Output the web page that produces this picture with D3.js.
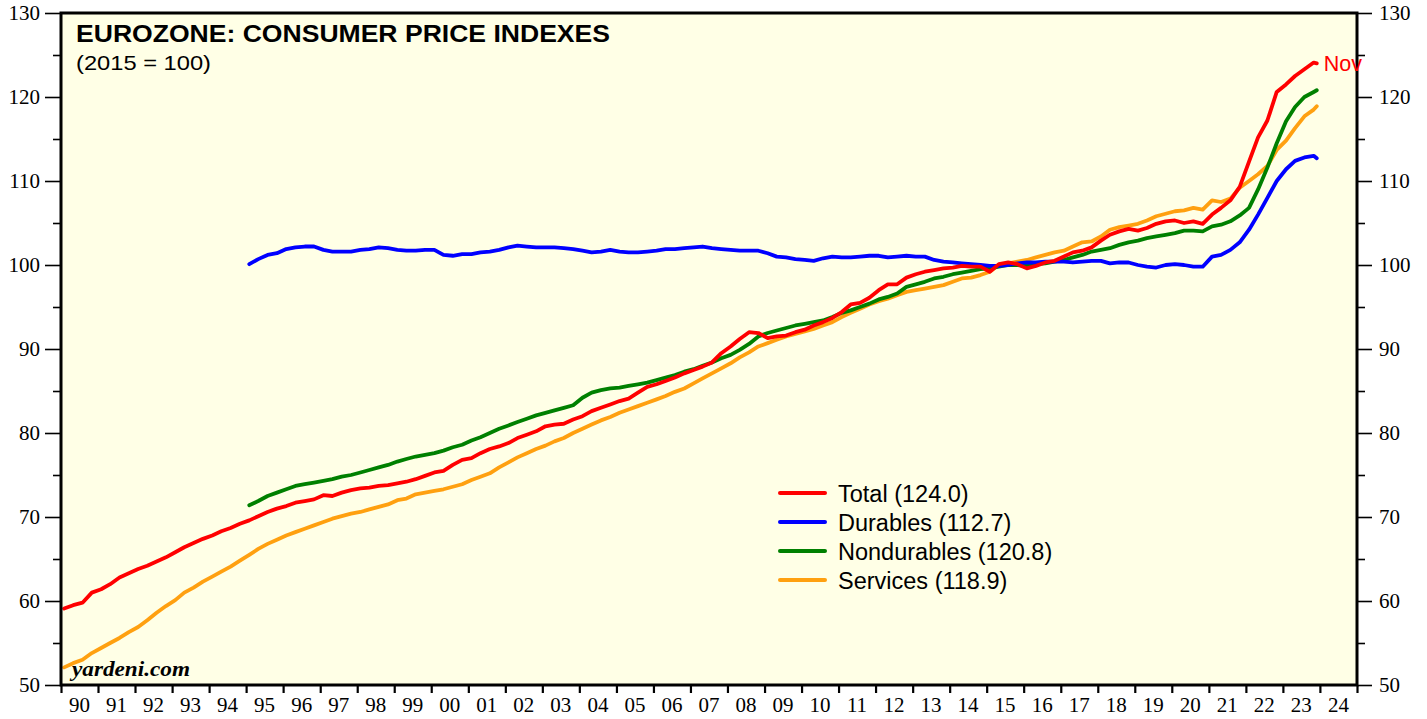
<!DOCTYPE html>
<html>
<head>
<meta charset="utf-8">
<script src="https://cdn.jsdelivr.net/npm/d3@7"></script>
<style>
  html, body { margin: 0; padding: 0; background: #ffffff; }
  svg { display: block; }
</style>
</head>
<body>
<svg id="chart" width="1427" height="719"></svg>
<script>
// ---------------- DATA (quarterly samples: Jan, Apr, Jul, Oct, plus final Nov 2023) ----------------
const title = "EUROZONE: CONSUMER PRICE INDEXES";
const subtitle = "(2015 = 100)";
const source = "yardeni.com";
const lastLabel = "Nov";

const startTotal = "1990-01";   // Total & Services start
const startGoods = "1995-01";   // Durables & Nondurables start
const endMonth = "2023-11";

const totalValues = [
  59.1, 59.5, 59.8, 61.0,   61.4, 62.0, 62.8, 63.3,   63.8, 64.2, 64.7, 65.2,   65.8, 66.4, 66.9, 67.4,
  67.8, 68.3, 68.7, 69.2,   69.6, 70.1, 70.6, 71.0,   71.3, 71.7, 71.9, 72.1,   72.6, 72.5, 72.9, 73.2,
  73.4, 73.5, 73.7, 73.8,   74.0, 74.2, 74.5, 74.9,   75.3, 75.5, 76.2, 76.8,   77.0, 77.6, 78.1, 78.4,
  78.8, 79.4, 79.8, 80.2,   80.8, 81.0, 81.1, 81.6,   82.0, 82.6, 83.0, 83.4,   83.8, 84.1, 84.8, 85.5,
  85.8, 86.2, 86.6, 87.1,   87.5, 87.9, 88.4, 89.5,   90.3, 91.2, 92.0, 91.9,   91.3, 91.5, 91.6, 92.0,
  92.3, 92.8, 93.2, 93.7,   94.4, 95.3, 95.5, 96.1,   97.0, 97.7, 97.7, 98.5,   98.9, 99.2, 99.4, 99.6,
  99.7, 99.9, 99.8, 99.8,   99.2, 100.1, 100.3, 100.1, 99.6, 99.9, 100.3, 100.5, 101.0, 101.5, 101.7, 102.1,
  102.9, 103.6, 104.0, 104.3, 104.1, 104.4, 104.9, 105.2, 105.3, 105.0, 105.2, 104.9,
  106.0, 106.8, 107.7, 109.3, 112.3, 115.2, 117.2, 120.6, 121.5, 122.5, 123.3, 124.1, 124.0
];

const servicesValues = [
  52.1, 52.6, 53.0, 53.8,   54.4, 55.0, 55.6, 56.3,   56.9, 57.7, 58.6, 59.4,   60.1, 61.0, 61.6, 62.3,
  62.9, 63.5, 64.1, 64.8,   65.5, 66.2, 66.8, 67.3,   67.8, 68.2, 68.6, 69.0,   69.4, 69.8, 70.1, 70.4,
  70.6, 70.9, 71.2, 71.5,   72.0, 72.2, 72.7, 72.9,   73.1, 73.3, 73.6, 73.9,   74.4, 74.8, 75.2, 75.9,
  76.5, 77.1, 77.6, 78.1,   78.5, 79.0, 79.4, 80.0,   80.5, 81.0, 81.5, 81.9,   82.4, 82.8, 83.2, 83.6,
  84.0, 84.4, 84.9, 85.3,   85.9, 86.5, 87.1, 87.7,   88.3, 89.0, 89.6, 90.3,   90.7, 91.1, 91.5, 91.8,
  92.1, 92.4, 92.8, 93.2,   93.8, 94.3, 94.8, 95.3,   95.7, 96.0, 96.4, 96.8,   97.0, 97.2, 97.4, 97.6,
  98.0, 98.4, 98.5, 98.8,   99.2, 100.0, 100.2, 100.4, 100.6, 100.9, 101.2, 101.5, 101.7, 102.2, 102.7, 102.8,
  103.4, 104.2, 104.5, 104.7, 104.9, 105.3, 105.8, 106.1, 106.4, 106.5, 106.8, 106.6,
  107.7, 107.5, 107.9, 109.2, 110.0, 110.8, 111.8, 113.7, 114.8, 116.3, 117.7, 118.5, 118.9
];

const durablesValues = [
  100.1, 100.7, 101.2, 101.4, 101.9, 102.1, 102.2, 102.2, 101.8, 101.6, 101.6, 101.6,
  101.8, 101.9, 102.1, 102.0, 101.8, 101.7, 101.7, 101.8, 101.8, 101.2, 101.1, 101.3,
  101.3, 101.5, 101.6, 101.8, 102.1, 102.3, 102.2, 102.1, 102.1, 102.1, 102.0, 101.9,
  101.7, 101.5, 101.6, 101.8, 101.6, 101.5, 101.5, 101.6, 101.7, 101.9, 101.9, 102.0,
  102.1, 102.2, 102.0, 101.9, 101.8, 101.7, 101.7, 101.7, 101.4, 101.0, 100.9, 100.7,
  100.6, 100.5, 100.8, 101.0, 100.9, 100.9, 101.0, 101.1, 101.1, 100.9, 101.0, 101.1,
  101.0, 101.0, 100.6, 100.4, 100.3, 100.2, 100.1, 100.0, 99.9, 99.9, 100.0, 100.2,
  100.3, 100.3, 100.4, 100.4, 100.4, 100.3, 100.4, 100.5, 100.5, 100.2, 100.3, 100.3,
  100.0, 99.8, 99.7, 100.0, 100.1, 100.0, 99.8, 99.8,
  101.0, 101.2, 101.8, 102.7, 104.2, 106.0, 108.0, 110.0, 111.4, 112.4, 112.8, 113.0, 112.7
];

const nondurablesValues = [
  71.4, 71.9, 72.5, 72.9,   73.3, 73.7, 73.9, 74.1,   74.3, 74.5, 74.8, 75.0,   75.3, 75.6, 75.9, 76.2,
  76.6, 76.9, 77.2, 77.4,   77.6, 77.9, 78.3, 78.6,   79.1, 79.5, 80.0, 80.5,   80.9, 81.3, 81.7, 82.1,
  82.4, 82.7, 83.0, 83.3,   84.2, 84.8, 85.1, 85.3,   85.4, 85.6, 85.8, 86.0,   86.3, 86.6, 86.9, 87.3,
  87.6, 88.0, 88.4, 88.9,   89.3, 89.9, 90.6, 91.5,   91.9, 92.2, 92.5, 92.8,   93.0, 93.2, 93.4, 93.8,
  94.3, 94.6, 95.0, 95.4,   95.9, 96.2, 96.6, 97.4,   97.7, 98.0, 98.4, 98.6,   98.9, 99.1, 99.3, 99.5,
  99.6, 99.8, 100.0, 100.0, 99.9, 100.1, 100.2, 100.4, 100.6, 100.9, 101.2, 101.6,
  101.8, 102.0, 102.4, 102.7, 102.9, 103.2, 103.4, 103.6, 103.8, 104.1, 104.1, 104.0,
  104.6, 104.8, 105.2, 105.9, 106.8, 109.0, 111.6, 114.5, 117.1, 118.8, 120.0, 120.6, 120.8
];

const seriesNames = ["Total", "Durables", "Nondurables", "Services"];
const seriesColors = ["#ff0000", "#0000ff", "#008000", "#ffa010"];
const legendValues = ["124.0", "112.7", "120.8", "118.9"];

const yTicks = [50, 60, 70, 80, 90, 100, 110, 120, 130];
const yMinorTicks = [55, 65, 75, 85, 95, 105, 115, 125];
const xYears = d3.range(1990, 2026);
const xLabels = ["90","91","92","93","94","95","96","97","98","99","00","01","02","03","04","05","06","07",
                 "08","09","10","11","12","13","14","15","16","17","18","19","20","21","22","23","24"];

// ---------------- LAYOUT ----------------
const W = 1427, H = 719;
const L = 61, R = 1357, T = 13, B = 685;
const svg = d3.select("#chart");
const parseMonth = d3.timeParse("%Y-%m");

// quarterly dates from a start month to Oct 2023, then the final month
function buildDates(start, n) {
  const s = parseMonth(start);
  const out = [];
  for (let i = 0; i < n - 1; i++) out.push(d3.timeMonth.offset(s, 3 * i));
  out.push(parseMonth(endMonth));
  return out;
}
// monthly observations plotted at the end of their month
const plotDate = d => d3.timeMonth.offset(d, 1);

const x = d3.scaleTime().domain([new Date(1990, 0, 1), new Date(2025, 0, 1)]).range([L, R]);
const y = d3.scaleLinear().domain([50, 130]).range([B, T]);

svg.append("rect").attr("width", W).attr("height", H).attr("fill", "#ffffff");
svg.append("rect").attr("x", L).attr("y", T).attr("width", R - L).attr("height", B - T).attr("fill", "#ffffe6");

// ---------------- SERIES ----------------
function mk(values, start) {
  const dates = buildDates(start, values.length);
  return values.map((v, i) => ({ date: dates[i], value: v }));
}
const series = [
  { name: "Services", color: seriesColors[3], data: mk(servicesValues, startTotal) },
  { name: "Nondurables", color: seriesColors[2], data: mk(nondurablesValues, startGoods) },
  { name: "Durables", color: seriesColors[1], data: mk(durablesValues, startGoods) },
  { name: "Total", color: seriesColors[0], data: mk(totalValues, startTotal) }
];

const line = d3.line().x(d => x(plotDate(d.date))).y(d => y(d.value));
const gLines = svg.append("g");
series.forEach(s => {
  gLines.append("path").datum(s.data)
    .attr("fill", "none").attr("stroke", s.color).attr("stroke-width", 3.8)
    .attr("stroke-linejoin", "round").attr("stroke-linecap", "round")
    .attr("d", line);
});

// ---------------- AXES ----------------
const serif = "'Liberation Serif', 'Times New Roman', serif";
const sans = "'Liberation Sans', Arial, Helvetica, sans-serif";

function styleAxis(g) {
  g.select(".domain").remove();
  g.selectAll("line").attr("stroke", "#000").attr("stroke-width", 1.6);
  g.selectAll("text").attr("font-family", serif).attr("font-size", 21).attr("fill", "#000");
}

svg.append("g").attr("transform", `translate(${L},0)`)
  .call(d3.axisLeft(y).tickValues(yTicks).tickSize(16).tickPadding(5).tickFormat(d3.format("d")))
  .call(styleAxis);
svg.append("g").attr("transform", `translate(${L},0)`)
  .call(d3.axisLeft(y).tickValues(yMinorTicks).tickSize(8).tickFormat(""))
  .call(styleAxis);
svg.append("g").attr("transform", `translate(${R},0)`)
  .call(d3.axisRight(y).tickValues(yTicks).tickSize(15).tickPadding(7).tickFormat(d3.format("d")))
  .call(styleAxis);
svg.append("g").attr("transform", `translate(${R},0)`)
  .call(d3.axisRight(y).tickValues(yMinorTicks).tickSize(8).tickFormat(""))
  .call(styleAxis);

const gx = svg.append("g").attr("transform", `translate(0,${B})`)
  .call(d3.axisBottom(x).tickValues(xYears.map(yr => new Date(yr, 0, 1))).tickSize(8).tickFormat(""))
  .call(styleAxis);
gx.selectAll("line").attr("stroke-width", 2.2);

svg.append("g").selectAll("text").data(xLabels).join("text")
  .attr("x", (d, i) => x(new Date(1990 + i, 6, 2)))
  .attr("y", 712)
  .attr("text-anchor", "middle")
  .attr("font-family", serif).attr("font-size", 21).attr("fill", "#000")
  .text(d => d);

// frame
svg.append("rect").attr("x", L).attr("y", T).attr("width", R - L).attr("height", B - T)
  .attr("fill", "none").attr("stroke", "#000").attr("stroke-width", 3);

// ---------------- TEXT ----------------
svg.append("text").attr("x", 76).attr("y", 42)
  .attr("font-family", sans).attr("font-weight", "bold").attr("font-size", 23.5)
  .attr("textLength", 534).attr("lengthAdjust", "spacingAndGlyphs")
  .text(title);
svg.append("text").attr("x", 76).attr("y", 70)
  .attr("font-family", sans).attr("font-size", 21)
  .attr("textLength", 135).attr("lengthAdjust", "spacingAndGlyphs")
  .text(subtitle);
svg.append("text").attr("x", 72).attr("y", 676)
  .attr("font-family", serif).attr("font-weight", "bold").attr("font-style", "italic").attr("font-size", 21)
  .attr("textLength", 118).attr("lengthAdjust", "spacingAndGlyphs")
  .text(source);

// end label
const tot = series[3].data;
const lastPt = tot[tot.length - 1];
svg.append("text")
  .attr("x", x(plotDate(lastPt.date)) + 7)
  .attr("y", y(lastPt.value) + 1)
  .attr("dominant-baseline", "central")
  .attr("font-family", sans).attr("font-size", 21.5).attr("fill", seriesColors[0])
  .text(lastLabel);

// legend
const lg = svg.append("g");
seriesNames.forEach((n, i) => {
  const yy = 493 + i * 29;
  lg.append("line").attr("x1", 780).attr("x2", 825).attr("y1", yy).attr("y2", yy)
    .attr("stroke", seriesColors[i]).attr("stroke-width", 4).attr("stroke-linecap", "round");
  lg.append("text").attr("x", 838).attr("y", yy + 1).attr("dominant-baseline", "central")
    .attr("font-family", sans).attr("font-size", 23.5).attr("fill", "#000")
    .text(`${n} (${legendValues[i]})`);
});
</script>
</body>
</html>
